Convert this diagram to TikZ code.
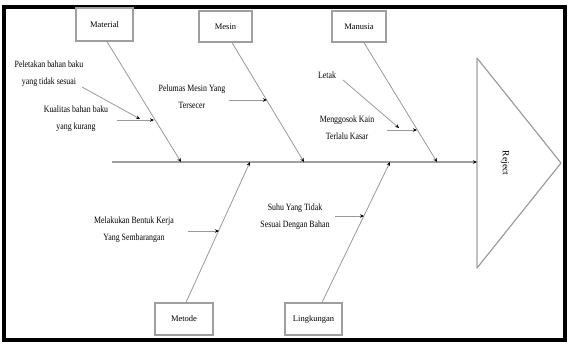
\documentclass[tikz,border=0pt]{standalone}
\usepackage{fontspec}
\setmainfont{Liberation Serif}
\usetikzlibrary{arrows.meta}
\begin{document}
\begin{tikzpicture}[x=1pt,y=-1pt,
  box/.style={draw=gray!75,line width=1.3pt,fill=white,inner sep=0pt,font=\fontsize{8.5}{10}\selectfont},
  lbl/.style={align=center,inner sep=0pt,font=\fontsize{9.6}{17}\selectfont,xscale=0.82,transform shape},
  bone/.style={draw=gray!80,line width=0.8pt},
  tip/.style={-{Stealth[black,length=4pt,width=3.5pt]}},
  spine/.style={draw=gray!75,line width=1.4pt}]
\useasboundingbox (0,0) rectangle (568,343);
\draw[line width=4pt] (3.5,6.5) rectangle (565,339.5);

% head
\coordinate (t1) at (477,58);
\coordinate (t2) at (561,163);
\coordinate (t3) at (477,268);
\coordinate (head) at (477,162);
\draw[draw=gray!75,line width=1.2pt,line join=round] (t1) -- (t2) -- (t3) -- cycle;
\node[rotate=-90,inner sep=0pt,font=\fontsize{9.5}{10}\selectfont] (eff) at (505,163) {Reject};

% spine
\coordinate (sp0) at (112,162);
\draw[spine,tip] (sp0) -- (head);

% category boxes
\node[box,minimum width=57pt,minimum height=33pt] (mat) at (104.5,24.5) {Material};
\node[box,minimum width=53pt,minimum height=31pt] (mes) at (225.5,26.5) {Mesin};
\node[box,minimum width=54pt,minimum height=31pt] (man) at (359,26.5) {Manusia};
\node[box,minimum width=58pt,minimum height=32pt] (met) at (184,319) {Metode};
\node[box,minimum width=57pt,minimum height=32pt] (lin) at (313.5,319) {Lingkungan};

% bone ends on spine
\coordinate (s1) at (181,162);
\coordinate (s2) at (304,162);
\coordinate (s3) at (437,162);
\coordinate (s4) at (250,162);
\coordinate (s5) at (390,162);

\draw[bone,tip] ([xshift=2.5pt]mat.south) -- (s1);
\draw[bone,tip] ([xshift=6.5pt]mes.south) -- (s2);
\draw[bone,tip] ([xshift=5pt]man.south) -- (s3);
\draw[bone,tip] ([xshift=2pt]met.north) -- (s4);
\draw[bone,tip] ([xshift=8.5pt]lin.north) -- (s5);

% sub causes - Material
\node[lbl] (c1) at (49,74) {Peletakan bahan baku\\yang tidak sesuai};
\node[lbl] (c2) at (76,119) {Kualitas bahan baku\\yang kurang};
\coordinate (c1a) at (82,87);
\coordinate (c1b) at (140,119);
\coordinate (c2a) at (117,120);
\coordinate (c2b) at (154,120);
\draw[bone,tip] (c1a) -- (c1b);
\draw[bone,tip] (c2a) -- (c2b);

% Mesin
\node[lbl] (c3) at (192,97) {Pelumas Mesin Yang\\Tersecer};
\coordinate (c3a) at (229,100);
\coordinate (c3b) at (267,100);
\draw[bone,tip] (c3a) -- (c3b);

% Manusia
\node[lbl] (c4) at (327,75) {Letak};
\node[lbl] (c5) at (347,128) {Menggosok Kain\\Terlalu Kasar};
\coordinate (c4a) at (343,80);
\coordinate (c4b) at (399,128);
\coordinate (c5a) at (387,130);
\coordinate (c5b) at (417,130);
\draw[bone,tip] (c4a) -- (c4b);
\draw[bone,tip] (c5a) -- (c5b);

% Metode
\node[lbl] (c6) at (134,230) {Melakukan Bentuk Kerja\\Yang Sembarangan};
\coordinate (c6a) at (188,231);
\coordinate (c6b) at (219,231);
\draw[bone,tip] (c6a) -- (c6b);

% Lingkungan
\node[lbl] (c7) at (295,217) {Suhu Yang Tidak\\Sesuai Dengan Bahan};
\coordinate (c7a) at (335,216);
\coordinate (c7b) at (364,216);
\draw[bone,tip] (c7a) -- (c7b);
\end{tikzpicture}
\end{document}
